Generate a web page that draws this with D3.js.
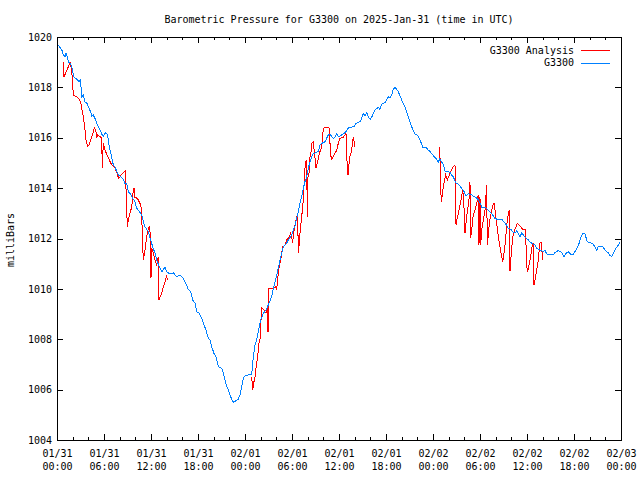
<!DOCTYPE html>
<html><head><meta charset="utf-8">
<script src="https://cdn.jsdelivr.net/npm/d3@7"></script>
<style>body{margin:0;background:#fff}</style>
</head><body>
<script>
// Times: hours since 2025-01-31 00:00 UTC ; values: milliBars
const g3300Obs = [
[0.13,1019.68],[0.38,1019.59],[0.64,1019.46],[0.80,1019.29],[1.02,1019.22],[1.15,1019.38],[1.31,1019.22],[1.44,1019.02],[1.66,1018.96],[1.88,1018.82],
[2.00,1018.62],[2.17,1018.42],[2.51,1018.32],[2.85,1018.23],[3.03,1018.32],[3.06,1018.03],[3.15,1017.63],[3.36,1017.70],[3.54,1017.43],[3.79,1017.39],
[4.00,1017.23],[4.30,1017.03],[4.43,1016.84],[4.63,1016.90],[4.85,1016.77],[5.07,1016.57],[5.27,1016.44],[5.49,1016.31],[5.71,1016.15],[5.91,1016.04],
[6.13,1016.20],[6.42,1016.15],[6.55,1015.91],[6.68,1015.64],[6.86,1015.38],[6.98,1015.24],[7.19,1014.92],[7.40,1014.84],[7.83,1014.52],[8.04,1014.48],
[8.46,1014.36],[8.68,1014.16],[8.90,1014.19],[9.10,1013.86],[9.32,1013.79],[9.54,1013.66],[9.96,1013.46],[10.17,1013.20],[10.38,1013.13],[10.81,1012.93],
[11.02,1012.67],[11.23,1012.47],[11.66,1012.27],[11.96,1011.94],[12.22,1011.67],[12.51,1011.41],[12.80,1011.08],[13.06,1010.88],[13.37,1010.68],[13.79,1010.86],
[14.00,1010.68],[14.43,1010.59],[14.85,1010.64],[15.28,1010.48],[15.70,1010.55],[16.12,1010.42],[16.34,1010.28],[16.56,1010.15],[16.76,1009.98],[17.07,1009.89],
[17.32,1009.56],[17.62,1009.43],[17.83,1009.09],[18.17,1009.03],[18.47,1008.83],[18.77,1008.57],[19.02,1008.37],[19.31,1008.04],[19.53,1007.97],[19.75,1007.70],
[20.04,1007.44],[20.30,1007.31],[20.46,1007.11],[20.59,1006.91],[21.03,1006.85],[21.23,1006.65],[21.45,1006.38],[21.66,1006.12],[21.87,1005.99],[22.09,1005.79],
[22.30,1005.62],[22.51,1005.50],[22.85,1005.56],[23.14,1005.62],[23.36,1005.79],[23.58,1006.12],[23.78,1006.45],[24.00,1006.54],[24.42,1006.58],[24.86,1006.61],
[24.93,1006.85],[25.06,1007.31],[25.28,1007.77],[25.49,1007.97],[25.70,1008.33],[26.00,1008.76],[26.34,1009.03],[26.68,1009.16],[26.97,1009.36],[27.41,1009.69],
[27.61,1010.02],[27.83,1010.28],[28.05,1010.55],[28.25,1010.82],[28.47,1011.15],[28.69,1011.41],[28.89,1011.67],[29.32,1011.81],[29.53,1011.94],[29.96,1012.14],
[30.17,1012.34],[30.38,1012.50],[30.60,1012.80],[30.80,1013.06],[31.02,1013.40],[31.24,1013.66],[31.44,1013.99],[31.66,1014.26],[31.88,1014.45],[32.08,1014.79],
[32.30,1015.05],[32.51,1015.25],[32.72,1015.38],[33.06,1015.41],[33.36,1015.45],[33.57,1015.71],[33.79,1015.78],[33.99,1015.80],[34.21,1015.84],[34.43,1015.98],
[34.63,1016.11],[34.85,1016.15],[35.07,1016.04],[35.27,1015.98],[35.49,1016.02],[35.71,1016.15],[35.91,1016.04],[36.13,1016.07],[36.55,1016.15],[36.89,1016.24],
[37.06,1016.34],[37.32,1016.41],[37.91,1016.44],[38.17,1016.57],[38.68,1016.64],[38.90,1016.77],[39.10,1016.97],[39.32,1016.86],[39.54,1016.99],[39.74,1016.84],
[39.96,1016.73],[40.17,1016.81],[40.38,1016.97],[40.60,1017.10],[41.02,1017.21],[41.23,1017.13],[41.45,1017.34],[41.87,1017.39],[42.09,1017.53],[42.29,1017.63],
[42.51,1017.57],[42.73,1017.70],[42.93,1017.92],[43.15,1018.00],[43.37,1017.92],[43.57,1017.83],[43.79,1017.66],[44.00,1017.50],[44.21,1017.37],[44.43,1017.23],
[44.64,1017.03],[44.85,1016.84],[45.06,1016.64],[45.28,1016.44],[45.48,1016.27],[45.70,1016.15],[45.99,1016.11],[46.25,1015.98],[46.43,1015.84],[46.69,1015.63],
[47.11,1015.61],[47.40,1015.51],[47.62,1015.45],[47.96,1015.32],[48.26,1015.22],[48.47,1015.14],[48.68,1015.04],[48.89,1015.17],[49.11,1015.04],[49.32,1014.92],
[49.53,1014.68],[50.17,1014.63],[50.39,1014.52],[50.59,1014.45],[50.94,1014.19],[51.23,1014.16],[51.66,1013.99],[51.96,1013.86],[52.21,1013.69],[52.51,1013.77],
[52.94,1013.73],[53.36,1013.64],[53.58,1013.60],[53.78,1013.53],[54.00,1013.42],[54.22,1013.24],[54.64,1013.24],[54.93,1013.16],[55.28,1013.05],[55.62,1012.93],
[55.91,1012.80],[56.21,1012.76],[56.77,1012.76],[56.98,1012.69],[57.19,1012.62],[57.61,1012.40],[57.92,1012.37],[58.17,1012.27],[58.47,1012.21],[58.69,1012.31],
[58.89,1012.21],[59.11,1012.07],[59.32,1012.21],[59.53,1012.14],[59.74,1012.07],[60.17,1011.94],[60.38,1011.87],[60.60,1011.81],[61.02,1011.74],[61.24,1011.61],
[61.66,1011.54],[62.08,1011.48],[62.30,1011.52],[62.59,1011.35],[62.94,1011.35],[63.36,1011.35],[63.57,1011.44],[64.00,1011.52],[64.43,1011.44],[64.72,1011.28],
[64.98,1011.41],[65.27,1011.48],[65.58,1011.38],[65.83,1011.35],[66.13,1011.48],[66.42,1011.65],[66.68,1011.83],[66.85,1012.05],[67.11,1012.18],[67.40,1012.18],
[67.70,1011.87],[68.04,1011.83],[68.39,1011.81],[68.68,1011.65],[68.90,1011.54],[69.10,1011.67],[69.41,1011.70],[69.74,1011.65],[69.96,1011.54],[70.17,1011.48],
[70.38,1011.44],[70.51,1011.35],[70.81,1011.28],[71.02,1011.41],[71.36,1011.61],[71.66,1011.74],[71.87,1011.87]
];
const analysisRun1 = [
[0.80,1019.01],[0.89,1018.41],[1.15,1018.61],[1.44,1018.81],[1.66,1019.01],[1.79,1018.81],[1.95,1018.41],[2.08,1017.70],[2.51,1017.62],[2.72,1017.57],
[3.03,1017.43],[3.15,1017.17],[3.28,1016.97],[3.45,1016.64],[3.57,1016.31],[3.70,1015.91],[3.92,1015.67],[4.12,1015.71],[4.30,1015.91],[4.56,1016.15],
[4.76,1016.41],[4.94,1016.31],[5.07,1015.99],[5.20,1016.11],[5.71,1015.99],[5.78,1014.80],[5.91,1015.79],[6.13,1015.51],[6.55,1015.20],[6.98,1014.92],
[7.40,1014.80],[7.75,1014.52],[7.83,1014.40],[8.04,1014.44],[8.26,1014.56],[8.72,1014.68],[8.90,1013.25],[8.97,1012.46],[9.10,1012.73],[9.32,1013.01],
[9.54,1013.25],[9.74,1013.93],[9.83,1014.00],[9.96,1013.61],[10.17,1013.61],[10.38,1013.53],[10.68,1013.33],[10.81,1013.13],[10.89,1012.06],[11.02,1011.15],
[11.23,1011.54],[11.45,1012.06],[11.66,1012.42],[11.78,1012.46],[11.96,1012.06],[12.00,1010.43],[12.09,1011.62],[12.29,1011.42],[12.51,1011.15],[12.73,1010.95],
[12.93,1011.27],[13.02,1009.56],[13.37,1009.84],[13.57,1010.07],[13.79,1010.27],[14.00,1010.55],[14.08,1010.35]
];
const analysisRun2 = [
[24.86,1006.51],[24.98,1005.99],[25.06,1006.12],[25.15,1006.32],[25.28,1006.51],[25.37,1006.78],[25.49,1007.05],[25.62,1007.31],[25.70,1007.57],[25.79,1007.84],
[25.91,1007.97],[26.00,1008.50],[26.13,1009.23],[26.43,1009.16],[26.68,1009.03],[26.85,1009.28],[26.94,1008.30],[26.97,1010.02],[27.61,1010.02],[27.96,1010.09],
[28.05,1009.96],[28.12,1010.28],[28.30,1010.75],[28.47,1011.02],[28.63,1011.28],[28.81,1011.67],[29.11,1011.74],[29.32,1011.94],[29.66,1012.07],[29.83,1012.21],
[29.96,1012.14],[30.04,1011.81],[30.17,1012.07],[30.29,1012.41],[30.60,1012.87],[30.73,1012.93],[30.80,1011.41],[30.89,1011.67],[31.02,1012.21],[31.15,1012.60],
[31.28,1013.00],[31.44,1013.53],[31.57,1014.32],[31.70,1014.99],[31.88,1015.12],[31.95,1012.87],[32.04,1014.45],[32.17,1014.59],[32.30,1015.25],[32.43,1015.45],
[32.55,1015.78],[32.72,1015.84],[32.94,1015.18],[33.06,1014.79],[33.23,1014.99],[33.41,1015.25],[33.57,1015.45],[33.79,1015.64],[33.92,1016.11],[34.00,1016.38],
[34.43,1016.42],[34.76,1016.38],[34.85,1015.78],[34.94,1015.38],[35.02,1015.14],[35.27,1015.25],[35.49,1015.38],[35.71,1015.51],[35.91,1015.78],[36.13,1015.98],
[36.55,1016.02],[36.89,1016.18],[36.98,1015.51],[37.06,1014.72],[37.15,1014.52],[37.24,1014.85],[37.40,1015.25],[37.62,1015.51],[37.75,1015.84],[37.83,1016.04],
[37.95,1015.78],[38.04,1015.64]
];
const analysisRun3 = [
[48.80,1015.64],[48.89,1015.25],[48.98,1014.06],[49.06,1013.46],[49.15,1013.66],[49.32,1014.06],[49.44,1014.26],[49.62,1014.52],[49.82,1014.32],[50.00,1014.45],
[50.17,1014.59],[50.39,1014.72],[50.59,1014.85],[50.81,1014.92],[50.85,1013.79],[50.94,1012.54],[51.03,1012.73],[51.23,1013.00],[51.45,1013.33],[51.66,1013.66],
[51.79,1013.93],[51.87,1013.66],[51.96,1013.20],[52.09,1012.21],[52.21,1012.60],[52.30,1012.87],[52.51,1013.33],[52.64,1013.66],[52.72,1014.26],[52.81,1012.01],
[52.94,1012.34],[53.06,1012.73],[53.15,1012.93],[53.36,1013.13],[53.58,1013.40],[53.78,1013.73],[53.87,1011.74],[54.00,1013.66],[54.09,1011.74],[54.22,1012.34],
[54.42,1012.73],[54.64,1013.13],[54.73,1013.53],[54.85,1014.12],[54.93,1011.74],[55.06,1012.14],[55.19,1012.60],[55.37,1012.93],[55.62,1013.29],[55.79,1013.41],
[55.91,1013.13],[56.13,1012.60],[56.34,1012.07],[56.55,1011.67],[56.77,1011.28],[56.90,1011.07],[57.06,1011.41],[57.23,1011.81],[57.41,1012.54],[57.61,1012.97],
[57.74,1013.13],[57.83,1010.71],[57.98,1011.35],[58.17,1012.06],[58.34,1012.27],[58.60,1012.47],[58.76,1012.60],[59.11,1012.50],[59.53,1012.34],[59.78,1012.34],
[59.87,1011.81],[59.96,1010.88],[60.09,1010.68],[60.29,1011.02],[60.47,1011.28],[60.64,1011.67],[60.80,1011.81],[60.89,1010.15],[61.06,1010.42],[61.24,1010.75],
[61.45,1011.15],[61.57,1011.61],[61.66,1011.83],[61.88,1011.83],[61.95,1011.15]
];
const yTickValues = [1004,1006,1008,1010,1012,1014,1016,1018,1020];
const xTickHours = [0,6,12,18,24,30,36,42,48,54,60,66,72];
const xMinorHours = [2,4,8,10,14,16,20,22,26,28,32,34,38,40,44,46,50,52,56,58,62,64,68,70];
const titleText = "Barometric Pressure for G3300 on 2025-Jan-31 (time in UTC)";
const yLabelText = "milliBars";
const seriesNames = ["G3300 Analysis","G3300"];
const seriesColors = ["#ff0000","#0080ff"];

const W=640,H=480, L=57, R=621, T=37, B=440;
const FONT = "'DejaVu Sans Mono', 'Liberation Mono', monospace";
const t0 = Date.UTC(2025,0,31,0,0);
const toDate = h => new Date(t0 + h*3600000);

const svg = d3.select("body").append("svg").attr("width",W).attr("height",H)
  .style("font-family",FONT).style("font-size","10px");
svg.append("rect").attr("width",W).attr("height",H).attr("fill","#fff");

const x = d3.scaleUtc().domain([toDate(0),toDate(72)]).range([L,R]);
const y = d3.scaleLinear().domain([1004,1020]).range([B,T]);

const fmtD = d3.utcFormat("%m/%d"), fmtT = d3.utcFormat("%H:%M");

function styleAxis(g){
  g.attr("font-family",FONT).attr("font-size",10);
  g.select(".domain").remove();
  g.selectAll("line").attr("stroke","#000").attr("shape-rendering","crispEdges");
  g.selectAll("text").attr("fill","#000");
}

// bottom axis with two-line labels
const xb = svg.append("g").attr("transform",`translate(0,${B})`)
  .call(d3.axisBottom(x).tickValues(xTickHours.map(toDate)).tickSizeInner(-6).tickSizeOuter(0).tickPadding(10).tickFormat(fmtD));
styleAxis(xb);
xb.selectAll(".tick text").each(function(d){
  const t=d3.select(this); t.text(null);
  t.append("tspan").attr("x",0).text(fmtD(d));
  t.append("tspan").attr("x",0).attr("dy","1.3em").text(fmtT(d));
});
const xbm = svg.append("g").attr("transform",`translate(0,${B})`)
  .call(d3.axisBottom(x).tickValues(xMinorHours.map(toDate)).tickSizeInner(-3).tickSizeOuter(0).tickFormat(""));
styleAxis(xbm);
const xt = svg.append("g").attr("transform",`translate(0,${T})`)
  .call(d3.axisTop(x).tickValues(xTickHours.map(toDate)).tickSizeInner(-6).tickSizeOuter(0).tickFormat(""));
styleAxis(xt);
const xtm = svg.append("g").attr("transform",`translate(0,${T})`)
  .call(d3.axisTop(x).tickValues(xMinorHours.map(toDate)).tickSizeInner(-3).tickSizeOuter(0).tickFormat(""));
styleAxis(xtm);

const yl = svg.append("g").attr("transform",`translate(${L},0)`)
  .call(d3.axisLeft(y).tickValues(yTickValues).tickSizeInner(-6).tickSizeOuter(0).tickPadding(5).tickFormat(d3.format("d")));
styleAxis(yl);
const yr = svg.append("g").attr("transform",`translate(${R},0)`)
  .call(d3.axisRight(y).tickValues(yTickValues).tickSizeInner(-6).tickSizeOuter(0).tickFormat(""));
styleAxis(yr);

// border
svg.append("rect").attr("x",L+0.5).attr("y",T+0.5).attr("width",R-L).attr("height",B-T)
  .attr("fill","none").attr("stroke","#000").attr("shape-rendering","crispEdges");

// lines
const line = d3.line().x(d=>x(toDate(d[0]))).y(d=>y(d[1]));
[analysisRun1,analysisRun2,analysisRun3].forEach(run=>{
  svg.append("path").datum(run).attr("d",line).attr("fill","none")
    .attr("stroke",seriesColors[0]).attr("stroke-width",1).attr("shape-rendering","crispEdges");
});
svg.append("path").datum(g3300Obs).attr("d",line).attr("fill","none")
  .attr("stroke",seriesColors[1]).attr("stroke-width",1).attr("shape-rendering","crispEdges");

// title
svg.append("text").attr("x",(L+R)/2).attr("y",23).attr("text-anchor","middle").text(titleText);
// y label
svg.append("text").attr("transform","translate(14,240) rotate(-90)").attr("text-anchor","middle").text(yLabelText);

// legend
seriesNames.forEach((n,i)=>{
  const ly = 50 + i*12.5;
  svg.append("text").attr("x",574).attr("y",ly+3.5).attr("text-anchor","end").text(n);
  svg.append("line").attr("x1",581).attr("x2",610).attr("y1",ly+0.5).attr("y2",ly+0.5)
    .attr("stroke",seriesColors[i]).attr("shape-rendering","crispEdges");
});
</script>
</body></html>
